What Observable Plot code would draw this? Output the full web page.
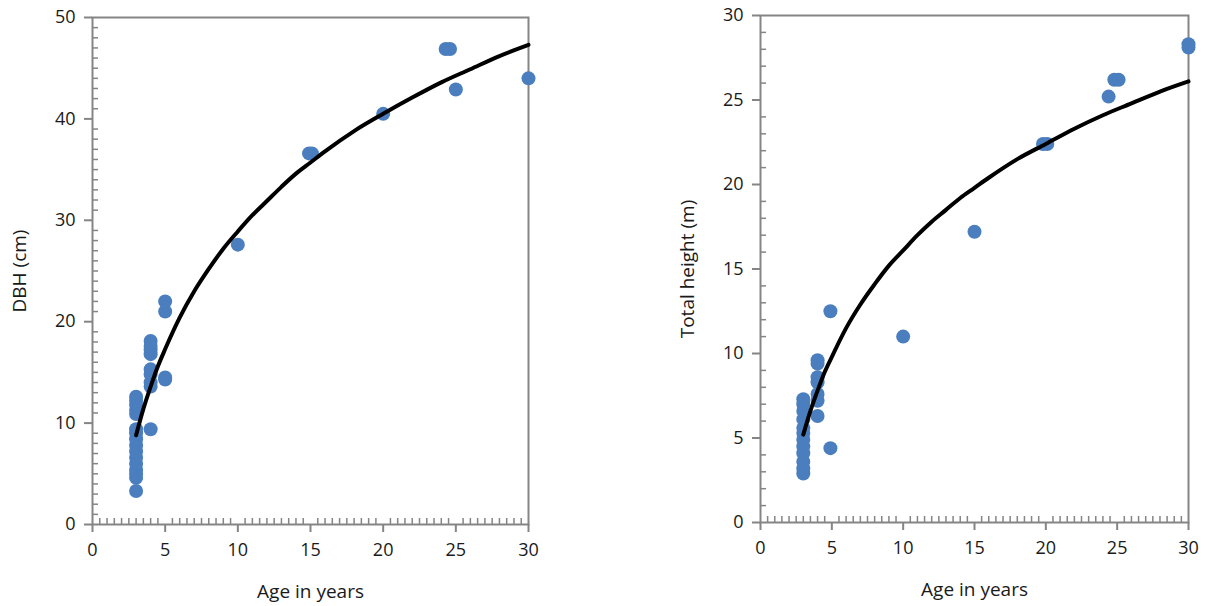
<!DOCTYPE html>
<html><head><meta charset="utf-8">
<script src="https://cdn.jsdelivr.net/npm/d3@7"></script>
<script src="https://cdn.jsdelivr.net/npm/@observablehq/plot@0.6"></script>
<style>
body{margin:0;background:#fff;}
#wrap{display:flex;width:1208px;height:606px;}
</style></head><body><div id="wrap"></div>
<script>
// ---- Data: DBH chart ----
const dbhPointAges = [3,3,3,3,3,3,3,3,3,3,3,3,3,3,3,3, 4,4,4,4,4,4,4,4,4, 5,5,5,5, 10, 14.9,15.1, 20, 24.3,24.6, 25, 30];
const dbhPointVals = [3.3,4.6,5.0,5.4,6.0,6.6,7.2,7.8,8.4,9.0,9.4,10.9,11.3,11.8,12.2,12.6,
                      9.4,13.6,14.0,14.8,15.3,16.8,17.2,17.6,18.1,
                      14.3,14.5,21.0,22.0, 27.6, 36.6,36.6, 40.5, 46.9,46.9, 42.9, 44.0];
const dbhCurveAges = [3,3.5,4,4.5,5,6,7,8,9,10,11,12,13,14,15,16,18,20,22,24,26,28,30];
const dbhCurveVals = [8.8,11.4,13.6,15.6,17.3,20.4,23.0,25.2,27.2,28.9,30.5,31.9,33.3,34.6,35.7,36.8,38.8,40.5,42.1,43.6,44.9,46.2,47.3];
const dbhYTicks = [0,10,20,30,40,50];

// ---- Data: Total height chart ----
const htPointAges = [3,3,3,3,3,3,3,3,3,3,3,3, 4,4,4,4,4,4,4, 4.9,4.9, 10, 15, 19.8,20.1, 24.4, 24.8,25.1, 30,30];
const htPointVals = [2.9,3.2,3.6,4.1,4.5,4.9,5.3,5.6,6.1,6.6,7.0,7.3,
                     6.3,7.2,7.6,8.3,8.6,9.4,9.6,
                     12.5,4.4, 11.0, 17.2, 22.4,22.4, 25.2, 26.2,26.2, 28.1,28.3];
const htCurveAges = [3,3.5,4,4.5,5,6,7,8,9,10,11,12,13,14,15,16,18,20,22,24,26,28,30];
const htCurveVals = [5.2,6.6,7.8,8.9,9.8,11.5,12.9,14.1,15.2,16.1,17.0,17.8,18.5,19.2,19.8,20.4,21.5,22.4,23.3,24.1,24.8,25.5,26.1];
const htYTicks = [0,5,10,15,20,25,30];

const xTicks = [0,5,10,15,20,25,30];
const xLabel = "Age in years";

const GRAY = "#858585";
const DOT = "#4a7ebe";

function range(a, b, s) { const r = []; for (let v = a; v <= b + 1e-9; v += s) r.push(+v.toFixed(2)); return r; }

function chart({ages, vals, cAges, cVals, yTicks, yMax, yLabel, ml, mr, mt, mb}) {
  const pts = ages.map((a, i) => ({age: a, v: vals[i]}));
  const curve = cAges.map((a, i) => ({age: a, v: cVals[i]}));
  const xMinor = range(0, 30, 0.5).filter(v => v % 5 !== 0);
  const yMinor = range(0, yMax, 1).filter(v => !yTicks.includes(v));
  return Plot.plot({
    width: 604, height: 606,
    marginLeft: ml, marginRight: mr, marginTop: mt, marginBottom: mb,
    style: {fontFamily: "'Open Sans', sans-serif", fontSize: "18px", color: "#1a1a1a", background: "#fff"},
    x: {domain: [0, 30]},
    y: {domain: [0, yMax]},
    marks: [
      Plot.axisX({ticks: xMinor, tickSize: 6, dy: -6, text: null, label: null, stroke: GRAY, strokeWidth: 1.5}),
      Plot.axisY({ticks: yMinor, tickSize: 6, dx: 6, text: null, label: null, stroke: GRAY, strokeWidth: 1.5}),
      Plot.axisX({ticks: xTicks, tickSize: 8, tickPadding: 11, stroke: GRAY, strokeWidth: 2, fontSize: 18,
        label: null, fill: "#1a1a1a"}),
      Plot.axisX({ticks: [], label: xLabel, labelAnchor: "center", labelOffset: 73, labelArrow: "none",
        fontSize: 19, fill: "#1a1a1a", tickSize: 0}),
      Plot.axisY({ticks: yTicks, tickSize: 8, tickPadding: 9, stroke: GRAY, strokeWidth: 2, fontSize: 18,
        label: null, fill: "#1a1a1a"}),
      Plot.axisY({ticks: [], label: yLabel, labelAnchor: "center", labelOffset: 80, labelArrow: "none",
        fontSize: 19, fill: "#1a1a1a", tickSize: 0}),
      Plot.frame({stroke: GRAY, strokeWidth: 2}),
      Plot.dot(pts, {x: "age", y: "v", r: 7, fill: DOT, stroke: "none"}),
      Plot.line(curve, {x: "age", y: "v", stroke: "#000", strokeWidth: 4, curve: "monotone-x"})
    ]
  });
}

const wrap = document.getElementById("wrap");
wrap.append(chart({ages: dbhPointAges, vals: dbhPointVals, cAges: dbhCurveAges, cVals: dbhCurveVals,
  yTicks: dbhYTicks, yMax: 50, yLabel: "DBH (cm)", ml: 92, mr: 76, mt: 17, mb: 82}));
wrap.append(chart({ages: htPointAges, vals: htPointVals, cAges: htCurveAges, cVals: htCurveVals,
  yTicks: htYTicks, yMax: 30, yLabel: "Total height (m)", ml: 156, mr: 20, mt: 15, mb: 84}));
</script></body></html>
